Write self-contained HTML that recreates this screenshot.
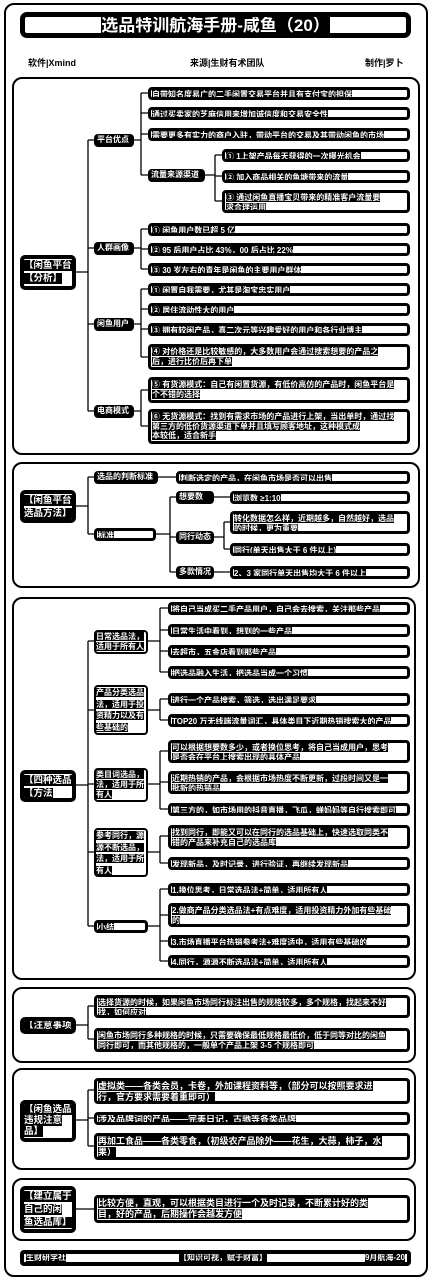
<!DOCTYPE html>
<html><head><meta charset="utf-8"><style>
*{margin:0;padding:0;box-sizing:border-box}
body{width:437px;height:1280px;background:#fff;position:relative;overflow:hidden;font-family:"Liberation Sans","Noto Sans CJK SC",sans-serif}
.f{position:absolute;border:2px solid #000;border-radius:10px}
.b{position:absolute;border:3px solid #000;border-radius:4px;background:#fff;font-weight:bold;font-size:8px;line-height:9.5px;overflow:hidden;padding:0 1px;white-space:nowrap}
.b span{background:#000;color:#fff}
.m{position:absolute;border:2px solid #000;border-radius:4px;background:#fff;font-weight:bold;font-size:8px;line-height:9.5px;overflow:hidden;padding:0;white-space:nowrap}
.m span{background:#000;color:#fff}
.n{position:absolute;background:#000;color:#fff;border-radius:4px;font-weight:bold;font-size:8px;line-height:10px;padding:1px 3px;overflow:hidden;white-space:nowrap}
.r{position:absolute;border:4px solid #000;border-radius:5px;background:#fff;font-weight:bold;font-size:9.5px;line-height:13px;overflow:hidden;white-space:nowrap}
.r span{background:#000;color:#fff}
.t{position:absolute;font-size:9px;font-weight:bold}
svg{position:absolute;left:0;top:0}
</style></head><body>
<div class="f" style="left:4px;top:3px;width:424px;height:1274px"></div>
<div class="r" style="left:20px;top:12px;width:391px;height:26px;border-width:5px;border-radius:7px;text-align:center;font-size:17px;line-height:17px"><span>选品特训航海手册-咸鱼（20）</span></div>
<div class="t" style="left:28px;top:56px">软件|Xmind</div>
<div class="t" style="left:190px;top:56px">来源|生财有术团队</div>
<div class="t" style="left:365px;top:56px">制作|罗卜</div>

<div class="f" style="left:12px;top:77px;width:408px;height:378px"></div>
<div class="f" style="left:12px;top:462px;width:408px;height:126px"></div>
<div class="f" style="left:12px;top:597px;width:404px;height:383px"></div>
<div class="f" style="left:12px;top:987px;width:404px;height:76px"></div>
<div class="f" style="left:12px;top:1068px;width:404px;height:102px"></div>
<div class="f" style="left:12px;top:1178px;width:404px;height:63px"></div>

<svg width="437" height="1280" fill="none" stroke="#000" stroke-width="1.3">
<path d="M74 272H88M88 140V411M88 140H94M88 248H94M88 324H94M88 411H94"/>
<path d="M134 140H141M141 93V175M141 93H148M141 113H148M141 134H148M141 175H148"/>
<path d="M205 175H215M215 155V201M215 155H222M215 176H222M215 201H222"/>
<path d="M134 248H141M141 229V269M141 229H148M141 249H148M141 269H148"/>
<path d="M134 324H141M141 289V357M141 289H148M141 309H148M141 329H148M141 357H148"/>
<path d="M134 411H141M141 390V426M141 390H148M141 426H148"/>
<path d="M74 506H88M88 477V534M88 477H94M88 534H94M158 477H176"/>
<path d="M156 534H170M170 497V572M170 497H176M170 537H176M170 572H176"/>
<path d="M214 497H230M214 537H224M224 522V549M224 522H230M224 549H230M214 572H230"/>
<path d="M74 785H88M88 641V926M88 641H94M88 710H94M88 784H94M88 852H94M88 926H94"/>
<path d="M148 641H160M160 608V672M160 608H168M160 630H168M160 651H168M160 672H168"/>
<path d="M148 710H160M160 699V720M160 699H168M160 720H168"/>
<path d="M148 784H160M160 751V809M160 751H168M160 782H168M160 809H168"/>
<path d="M148 852H160M160 836V863M160 836H168M160 863H168"/>
<path d="M148 926H160M160 889V961M160 889H168M160 915H168M160 941H168M160 961H168"/>
<path d="M74 1025H88M88 1006V1039M88 1006H94M88 1039H94"/>
<path d="M74 1120H88M88 1090V1146M88 1090H94M88 1118H94M88 1146H94"/>
<path d="M74 1209H94"/>
</svg>

<!-- section 1 -->
<div class="r" style="left:20px;top:255px;width:56px;height:35px"><span>【闲鱼平台</span><br><span>【分析】</span></div>
<div class="n" style="left:94px;top:134px;width:40px;height:13px">平台优点</div>
<div class="n" style="left:94px;top:242px;width:40px;height:13px">人群画像</div>
<div class="n" style="left:94px;top:318px;width:40px;height:13px">闲鱼用户</div>
<div class="n" style="left:94px;top:405px;width:40px;height:13px">电商模式</div>
<div class="b" style="left:148px;top:87px;width:262px;height:13px"><span>自带知名度易广的二手闲置交易平台并且有支付宝的担保</span></div>
<div class="b" style="left:148px;top:107px;width:262px;height:13px"><span>通过买卖家的芝麻信用来增加诚信度和交易安全性</span></div>
<div class="b" style="left:148px;top:128px;width:262px;height:13px"><span>需要更多有实力的商户入驻，带动平台的交易及其带动闲鱼的市场</span></div>
<div class="n" style="left:148px;top:169px;width:57px;height:13px">流量来源渠道</div>
<div class="b" style="left:222px;top:149px;width:188px;height:13px"><span>① 1上架产品每天获得的一次曝光机会</span></div>
<div class="b" style="left:222px;top:170px;width:188px;height:13px"><span>② 加入商品相关的鱼塘带来的流量</span></div>
<div class="b" style="left:222px;top:190px;width:188px;height:23px"><span>③ 通过闲鱼直播宝贝带来的精准客户流量要</span><br><span>求合理运用</span></div>
<div class="b" style="left:148px;top:223px;width:262px;height:13px"><span>① 闲鱼用户数已超 5 亿</span></div>
<div class="b" style="left:148px;top:243px;width:262px;height:13px"><span>② 95 后用户占比 43%，00 后占比 22%</span></div>
<div class="b" style="left:148px;top:263px;width:262px;height:13px"><span>③ 30 岁左右的青年是闲鱼的主要用户群体</span></div>
<div class="b" style="left:148px;top:283px;width:262px;height:13px"><span>① 闲置自我需要，尤其是淘宝忠实用户</span></div>
<div class="b" style="left:148px;top:303px;width:262px;height:13px"><span>② 居住流动性大的用户</span></div>
<div class="b" style="left:148px;top:323px;width:262px;height:13px"><span>③ 拥有较闲产品，喜二次元等兴趣爱好的用户和各行业博主</span></div>
<div class="b" style="left:148px;top:344px;width:262px;height:26px"><span>④ 对价格还是比较敏感的，大多数用户会通过搜索想要的产品之</span><br><span>后，进行比价后再下单</span></div>
<div class="b" style="left:148px;top:377px;width:262px;height:26px"><span>⑤ 有货源模式：自己有闲置货源，有低价高仿的产品时，闲鱼平台是</span><br><span>个不错的选择</span></div>
<div class="b" style="left:148px;top:409px;width:262px;height:35px"><span>⑥ 无货源模式：找到有需求市场的产品进行上架，当出单时，通过找</span><br><span>第三方的低价货源渠道下单并且填写顾客地址，这种模式成</span><br><span>本较低，适合新手</span></div>

<!-- section 2 -->
<div class="r" style="left:20px;top:490px;width:56px;height:33px"><span>【闲鱼平台</span><br><span>选品方法】</span></div>
<div class="n" style="left:94px;top:471px;width:64px;height:13px">选品的判断标准</div>
<div class="b" style="left:176px;top:471px;width:234px;height:13px"><span>判断选定的产品，在闲鱼市场是否可以出售</span></div>
<div class="b" style="left:94px;top:528px;width:62px;height:13px"><span>标准</span></div>
<div class="n" style="left:176px;top:491px;width:38px;height:13px">想要数</div>
<div class="b" style="left:230px;top:491px;width:180px;height:13px"><span>浏览数 ≥1:10</span></div>
<div class="n" style="left:176px;top:531px;width:38px;height:13px">同行动态</div>
<div class="b" style="left:230px;top:511px;width:180px;height:23px"><span>转化数据怎么样，近期越多，自然越好，选品</span><br><span>的时候，更为重要</span></div>
<div class="b" style="left:230px;top:543px;width:180px;height:13px"><span>同行(单天出售大于 6 件以上)</span></div>
<div class="n" style="left:176px;top:566px;width:38px;height:13px">多款情况</div>
<div class="b" style="left:230px;top:566px;width:180px;height:13px"><span>2、3 家同行单天出售均大于 6 件以上</span></div>

<!-- section 3 -->
<div class="r" style="left:20px;top:770px;width:56px;height:32px"><span>【四种选品</span><br><span>【方法</span></div>
<div class="m" style="left:94px;top:630px;width:54px;height:24px"><span>日常选品法，</span><br><span>适用于所有人</span></div>
<div class="m" style="left:94px;top:685px;width:54px;height:50px;line-height:11.5px"><span>产品分类选品</span><br><span>法，适用于投</span><br><span>资精力以及有</span><br><span>些基础的</span></div>
<div class="m" style="left:94px;top:768px;width:54px;height:34px;line-height:10px"><span>类目词选品，</span><br><span>法，适用于所</span><br><span>有人</span></div>
<div class="m" style="left:94px;top:828px;width:54px;height:49px;line-height:11.5px"><span>参考同行，源</span><br><span>源不断选品，</span><br><span>法，适用于所</span><br><span>有人</span></div>
<div class="b" style="left:94px;top:920px;width:54px;height:13px"><span>小结</span></div>
<div class="b" style="left:168px;top:602px;width:242px;height:13px"><span>将自己当成买二手产品用户，自己会去搜索，关注那些产品</span></div>
<div class="b" style="left:168px;top:624px;width:242px;height:13px"><span>日常生活中看到，想到的一些产品</span></div>
<div class="b" style="left:168px;top:645px;width:242px;height:13px"><span>去超市，五金店看到那些产品</span></div>
<div class="b" style="left:168px;top:666px;width:242px;height:13px"><span>把选品融入生活，把选品当成一个习惯</span></div>
<div class="b" style="left:168px;top:693px;width:242px;height:13px"><span>进行一个产品搜索，筛选，选出满足要求</span></div>
<div class="b" style="left:168px;top:714px;width:242px;height:13px"><span>TOP20 万无线端流量词汇，具体类目下近期热销搜索大的产品</span></div>
<div class="b" style="left:168px;top:740px;width:242px;height:23px"><span>可以根据想要数多少，或者换位思考，将自己当成用户，思考</span><br><span>是否会在平台上搜索出现的具体产品</span></div>
<div class="b" style="left:168px;top:771px;width:242px;height:23px"><span>近期热销的产品，会根据市场热度不断更新，过段时间又是一</span><br><span>批新的热销品</span></div>
<div class="b" style="left:168px;top:803px;width:242px;height:13px"><span>第三方的，如市场用的抖音直播，飞瓜，蝉妈妈等自行搜索即可</span></div>
<div class="b" style="left:168px;top:825px;width:242px;height:24px"><span>找到同行，即能又可以在同行的选品基础上，快速选取同类不</span><br><span>错的产品来补充自己的选品库</span></div>
<div class="b" style="left:168px;top:857px;width:242px;height:13px"><span>发现新品，及时记录，进行验证，再继续发现新品</span></div>
<div class="b" style="left:168px;top:883px;width:242px;height:13px"><span>1.换位思考，日常选品法+简单，适用所有人</span></div>
<div class="b" style="left:168px;top:903px;width:242px;height:24px"><span>2.做商产品分类选品法+有点难度，适用投资精力外加有些基础</span><br><span>的</span></div>
<div class="b" style="left:168px;top:935px;width:242px;height:13px"><span>3.市场直播平台热销参考法+难度适中，适用有些基础的</span></div>
<div class="b" style="left:168px;top:955px;width:242px;height:13px"><span>4.同行，源源不断选品法+简单，适用所有人</span></div>

<!-- section 4 -->
<div class="r" style="left:20px;top:1017px;width:56px;height:17px;line-height:10px"><span>【注意事项】</span></div>
<div class="b" style="left:94px;top:995px;width:316px;height:23px"><span>选择货源的时候，如果闲鱼市场同行标注出售的规格较多，多个规格，找起来不好</span><br><span>找，如何应对</span></div>
<div class="b" style="left:94px;top:1028px;width:316px;height:24px"><span>闲鱼市场同行多种规格的时候，只需要确保最低规格最低价，低于同等对比的闲鱼</span><br><span>同行即可，而其他规格的，一般单个产品上架 3-5 个规格即可</span></div>

<!-- section 5 -->
<div class="r" style="left:20px;top:1100px;width:56px;height:42px;line-height:11px"><span>【闲鱼选品</span><br><span>违规注意</span><br><span>品】</span></div>
<div class="b" style="left:94px;top:1078px;width:316px;height:26px;font-size:9px;line-height:10.5px"><span>虚拟类——各类会员，卡卷，外加课程资料等，（部分可以按照要求进</span><br><span>行，官方要求需要着重即可）</span></div>
<div class="b" style="left:94px;top:1112px;width:316px;height:13px;font-size:9px"><span>涉及品牌词的产品——完美日记，古驰等各类品牌</span></div>
<div class="b" style="left:94px;top:1133px;width:316px;height:27px;font-size:9px;line-height:10.5px"><span>再加工食品——各类零食，（初级农产品除外——花生，大蒜，柿子，水</span><br><span>果）</span></div>

<!-- section 6 -->
<div class="r" style="left:20px;top:1186px;width:56px;height:47px;line-height:13px"><span>【建立属于</span><br><span>自己的闲</span><br><span>鱼选品库】</span></div>
<div class="b" style="left:94px;top:1195px;width:316px;height:28px;font-size:9px;line-height:11px"><span>比较方便，直观，可以根据类目进行一个及时记录，不断累计好的类</span><br><span>目，好的产品，后期操作会越发方便</span></div>

<!-- footer -->
<div class="b" style="left:20px;top:1250px;width:391px;height:16px;border-width:4px;font-size:8px;line-height:8px">
<span style="position:absolute;left:2px;top:0">生财研学社</span>
<span style="position:absolute;left:155px;top:0">【知识可视，赋于财富】</span>
<span style="position:absolute;right:2px;top:0">9月航海-20</span>
</div>
</body></html>
